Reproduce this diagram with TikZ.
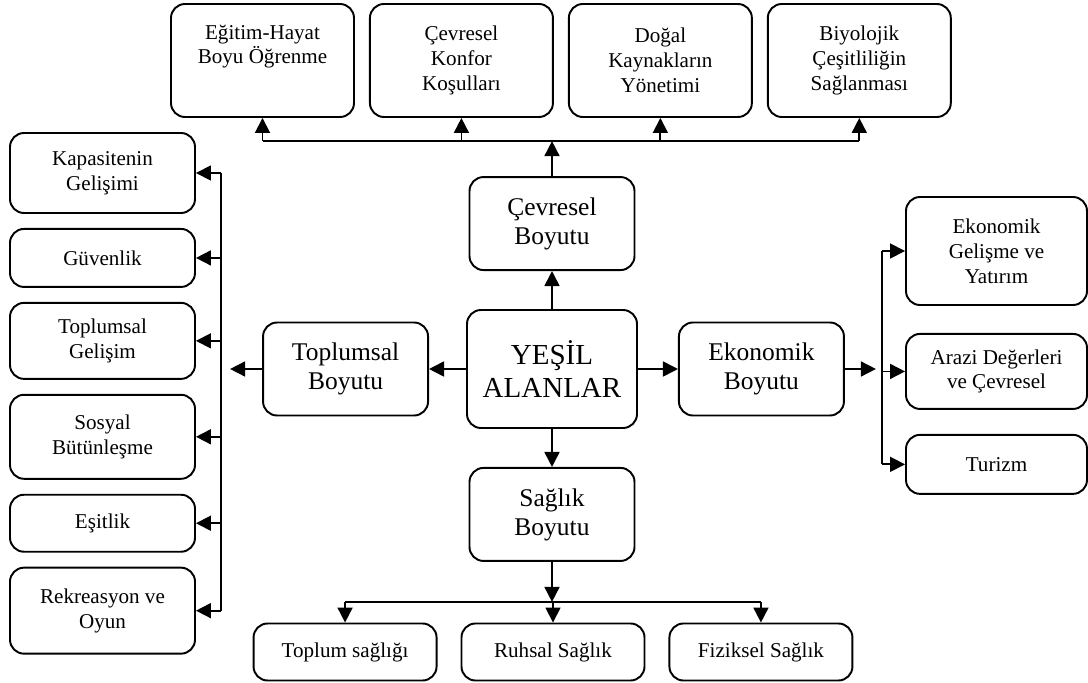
\documentclass[tikz,border=0pt]{standalone}
\usepackage{fontspec}
\setmainfont{Liberation Serif}
\usetikzlibrary{arrows.meta,positioning}

\begin{document}
\begin{tikzpicture}[
    node distance=0.28cm and 0.28cm,
    box/.style={draw, line width=1.1pt, rounded corners=2.8mm, align=center, inner sep=2pt, font=\fontsize{12}{14.2}\selectfont},
    topbox/.style={box, minimum width=3.66cm, minimum height=2.26cm},
    leftbox/.style={box, minimum width=3.7cm},
    rightbox/.style={box, minimum width=3.62cm},
    lowbox/.style={box, minimum width=3.66cm, minimum height=1.14cm},
    dim/.style={box, minimum width=3.3cm, minimum height=1.86cm, font=\fontsize{14.5}{16.5}\selectfont},
    core/.style={box, minimum width=3.4cm, minimum height=2.36cm, font=\fontsize{16.5}{19}\selectfont},
    arrow/.style={-{Triangle[length=3mm, width=3mm]}, line width=1pt},
    bus/.style={line width=1pt}
  ]
    \useasboundingbox (0,0) rectangle (21.76,-13.66);

    % centre and the four dimensions
    \node[core] (core) at (11.04,-7.38) {YEŞİL\\ALANLAR};
    \node[dim, above=0.76cm of core] (cev) {Çevresel\\Boyutu};
    \node[dim, below=0.76cm of core] (sag) {Sağlık\\Boyutu};
    \node[dim, left=0.74cm of core] (tpl) {Toplumsal\\Boyutu};
    \node[dim, right=0.8cm of core] (eko) {Ekonomik\\Boyutu};

    % top row
    \node[topbox] (egt) at (5.25,-1.21) {Eğitim-Hayat\\Boyu Öğrenme\\\strut};
    \node[topbox, right=of egt] (kon) {Çevresel\\Konfor\\Koşulları};
    \node[topbox, right=of kon] (dog) {Doğal\\Kaynakların\\Yönetimi};
    \node[topbox, right=of dog] (biy) {Biyolojik\\Çeşitliliğin\\Sağlanması};

    % left column
    \node[leftbox, minimum height=1.6cm] (kap) at (2.05,-3.46) {Kapasitenin\\Gelişimi};
    \node[leftbox, minimum height=1.16cm, below=of kap] (guv) {Güvenlik};
    \node[leftbox, minimum height=1.52cm, below=of guv] (tge) {Toplumsal\\Gelişim};
    \node[leftbox, minimum height=1.68cm, below=of tge] (sos) {Sosyal\\Bütünleşme};
    \node[leftbox, minimum height=1.14cm, below=of sos] (esi) {Eşitlik};
    \node[leftbox, minimum height=1.72cm, below=of esi] (rek) {Rekreasyon ve\\Oyun};

    % right column
    \node[rightbox, minimum height=2.16cm] (ege) at (19.93,-5.02) {Ekonomik\\Gelişme ve\\Yatırım};
    \node[rightbox, minimum height=1.5cm, below=0.54cm of ege] (ara) {Arazi Değerleri\\ve Çevresel};
    \node[rightbox, minimum height=1.18cm, below=0.48cm of ara] (tur) {Turizm};

    % bottom row
    \node[lowbox] (ruh) at (11.06,-13.04) {Ruhsal Sağlık};
    \node[lowbox, left=0.46cm of ruh] (tsa) {Toplum sağlığı};
    \node[lowbox, right=0.46cm of ruh] (fiz) {Fiziksel Sağlık};

    % bus points
    \coordinate[above=0.7cm of cev] (topbus);
    \coordinate[right=0.5cm of kap] (lbus);
    \coordinate[left=0.64cm of tpl] (tpltip);
    \coordinate[left=0.46cm of ege] (rbus);
    \coordinate[right=0.62cm of eko] (ekotip);
    \coordinate[below=0.8cm of sag] (lowbus);

    % from the centre
    \draw[arrow] (core) -- (cev);
    \draw[arrow] (core) -- (sag);
    \draw[arrow] (core) -- (tpl);
    \draw[arrow] (core) -- (eko);

    % upwards
    \draw[arrow] (cev) -- (topbus);
    \draw[bus] (egt.south |- topbus) -- (biy.south |- topbus);
    \foreach \n in {egt,kon,dog,biy}
      \draw[arrow] (\n.south |- topbus) -- (\n.south);

    % to the left
    \draw[arrow] (tpl) -- (tpltip);
    \draw[bus] (lbus) -- (lbus |- rek.east);
    \foreach \n in {kap,guv,tge,sos,esi,rek}
      \draw[arrow] (lbus |- \n.east) -- (\n.east);

    % to the right
    \draw[arrow] (eko) -- (ekotip);
    \draw[bus] (rbus) -- (rbus |- tur.west);
    \foreach \n in {ege,ara,tur}
      \draw[arrow] (rbus |- \n.west) -- (\n.west);

    % downwards
    \draw[arrow] (sag) -- (lowbus);
    \draw[bus] (tsa.north |- lowbus) -- (fiz.north |- lowbus);
    \foreach \n in {tsa,ruh,fiz}
      \draw[arrow] (\n.north |- lowbus) -- (\n.north);
  \end{tikzpicture}
\end{document}
